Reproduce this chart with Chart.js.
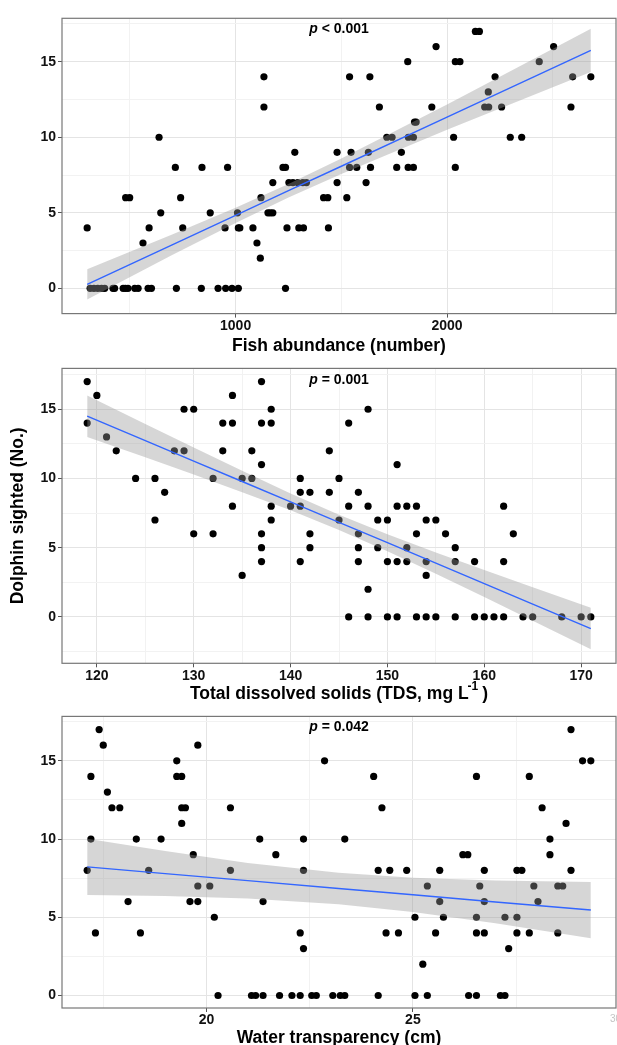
<!DOCTYPE html>
<html lang="en">
<head>
<meta charset="UTF-8">
<title>Dolphin sightings vs. water quality</title>
<style>
  body { margin: 0; background: #fff; }
  #wrap { position: relative; width: 617px; height: 1045px; overflow: hidden; }
  canvas { position: absolute; left: 0; }
</style>
</head>
<body>
<div id="wrap">
  <canvas id="fish" width="617" height="358" style="top:0px"></canvas>
  <canvas id="tds" width="617" height="348" style="top:358px"></canvas>
  <canvas id="water" width="617" height="339" style="top:706px"></canvas>
</div>

<script src="https://cdn.jsdelivr.net/npm/chart.js"></script>
<script>
// --- panel 1: fish abundance ---
const fishX = [298, 312, 330, 348, 366, 381, 420, 428, 468, 479, 491, 523, 539, 586, 602, 720, 838, 917, 953, 983, 1013, 1236,
  480, 499, 562, 591, 638, 646, 715, 740, 750, 841, 880, 950, 962, 1009, 1013, 1020, 1082, 1101, 1117, 1120, 1134, 1134,
  1153, 1164, 1176, 1176, 1224, 1236, 1243, 1280, 1252, 1271, 1294, 1318, 1335, 1299, 1321,
  1416, 1436, 1439, 1480, 1480, 1526, 1539, 1539, 1546, 1573, 1617, 1628, 1635, 1638, 1680, 1715, 1740, 1762, 1784,
  1814, 1817, 1816, 1841, 1841, 1846, 1854, 1928, 1948, 2031, 2039, 2039, 2061, 2134, 2153, 2178, 2197, 2195, 2227,
  2258, 2299, 2353, 2436, 2504, 2586, 2594, 2680];
const fishDolphins = [4, 0, 0, 0, 0, 0, 0, 0, 0, 0, 0, 0, 0, 0, 0, 0, 0, 0, 0, 0, 0, 0,
  6, 6, 3, 4, 10, 5, 8, 6, 4, 8, 5, 4, 8, 5, 4, 4, 4, 3, 2, 6, 14, 12,
  5, 5, 5, 7, 8, 8, 4, 9, 7, 7, 7, 7, 7, 4, 4,
  6, 6, 4, 9, 7, 6, 14, 8, 9, 8, 7, 9, 14, 8, 12, 10, 10, 8, 9,
  15, 10, 8, 8, 10, 11, 11, 12, 16, 10, 8, 15, 15, 17, 17, 12, 12, 13, 14,
  12, 10, 10, 15, 16, 12, 14, 14];
const fishFitX = [298, 700, 1000, 1250, 1500, 2000, 2400, 2680];
const fishFit = [0.27, 2.88, 4.83, 6.46, 8.08, 11.33, 13.93, 15.75];
const fishLow = [-0.73, 2.20, 4.33, 6.01, 7.57, 10.49, 12.75, 14.32];
const fishHigh = [1.27, 3.56, 5.33, 6.91, 8.59, 12.17, 15.11, 17.18];
const fishTicks = [1000, 2000];
const fishMinor = [500, 1500, 2500];

// --- panel 2: total dissolved solids ---
const tdsX = [119, 119, 120, 121, 122, 124, 126, 126, 127, 128, 129, 129, 130, 130, 132, 132, 133, 133,
  134, 134, 134, 135, 135, 136, 136, 137, 137, 137, 137, 137, 137, 138, 138, 138, 138, 140,
  141, 141, 141, 141, 142, 142, 142, 144, 144, 145, 145, 146, 146, 146, 147, 147, 147, 147,
  148, 148, 148, 148, 149, 149, 150, 150, 150, 151, 151, 151, 151, 152, 152, 152, 153, 153, 153,
  154, 154, 154, 154, 155, 155, 156, 157, 157, 157, 159, 159, 160, 161, 162, 162, 162, 163,
  164, 165, 168, 170, 171];
const tdsDolphins = [17, 14, 16, 13, 12, 10, 10, 7, 9, 12, 15, 12, 15, 6, 10, 6, 14, 12,
  16, 14, 8, 10, 3, 12, 10, 17, 14, 11, 6, 5, 4, 15, 14, 8, 7, 8,
  10, 9, 8, 4, 9, 6, 5, 12, 9, 10, 7, 14, 8, 0, 9, 6, 5, 4,
  15, 8, 2, 0, 7, 5, 7, 4, 0, 11, 8, 4, 0, 8, 5, 4, 8, 6, 0,
  7, 4, 3, 0, 7, 0, 6, 5, 4, 0, 4, 0, 0, 0, 8, 4, 0, 6,
  0, 0, 0, 0, 0];
const tdsFitX = [119, 125, 130, 135, 140, 145, 150, 155, 160, 165, 171];
const tdsFit = [14.50, 12.73, 11.26, 9.78, 8.31, 6.83, 5.36, 3.88, 2.41, 0.93, -0.84];
const tdsLow = [13.0, 11.53, 10.28, 9.01, 7.70, 6.28, 4.75, 3.11, 1.43, -0.28, -2.34];
const tdsHigh = [16.0, 13.94, 12.23, 10.55, 8.92, 7.38, 5.97, 4.65, 3.38, 2.14, 0.66];
const tdsTicks = [120, 130, 140, 150, 160, 170];
const tdsMinor = [125, 135, 145, 155, 165];

// --- panel 3: water transparency ---
const waterX = [17.11, 17.2, 17.2, 17.31, 17.4, 17.5, 17.6, 17.71, 17.9, 18.1, 18.3, 18.4, 18.6, 18.9,
  19.28, 19.28, 19.4, 19.4, 19.49, 19.4, 19.6, 19.68, 19.79, 19.79, 19.79, 20.08, 20.19, 20.28,
  20.58, 20.58, 21.09, 21.19, 21.29, 21.37, 21.37, 21.68, 21.77, 22.07, 22.27, 22.27, 22.35, 22.35,
  22.35, 22.55, 22.66, 22.86, 23.06, 23.24, 23.35, 23.35, 24.05, 24.16, 24.16, 24.25, 24.35, 24.44,
  24.65, 24.85, 25.05, 25.05, 25.24, 25.35, 25.35, 25.55, 25.65, 25.65, 25.74, 26.21, 26.33, 26.35,
  26.54, 26.54, 26.54, 26.54, 26.62, 26.73, 26.73, 26.73, 27.12, 27.23, 27.23, 27.32, 27.52, 27.64,
  27.52, 27.52, 27.82, 27.82, 27.93, 28.03, 28.13, 28.32, 28.32, 28.51, 28.63, 28.51, 28.71, 28.83,
  28.83, 29.11, 29.31];
const waterDolphins = [8, 10, 14, 4, 17, 16, 13, 12, 12, 6, 10, 4, 8, 10,
  15, 14, 14, 12, 12, 11, 6, 9, 16, 7, 6, 7, 5, 0,
  12, 8, 0, 0, 10, 0, 6, 9, 0, 0, 0, 4, 3, 10,
  8, 0, 0, 15, 0, 0, 0, 10, 14, 0, 8, 12, 4, 8,
  4, 8, 5, 0, 2, 0, 7, 4, 6, 8, 5, 9, 9, 0,
  0, 14, 5, 4, 7, 6, 8, 4, 0, 0, 5, 3, 8, 8,
  5, 4, 14, 4, 7, 6, 12, 10, 9, 7, 7, 4, 11, 17,
  8, 15, 15];
const waterFitX = [17.11, 19, 21, 23.2, 25, 27, 29.31];
const waterFit = [8.22, 7.79, 7.34, 6.84, 6.44, 5.98, 5.46];
const waterLow = [6.42, 6.36, 6.20, 5.84, 5.34, 4.62, 3.66];
const waterHigh = [10.02, 9.23, 8.47, 7.84, 7.53, 7.35, 7.26];
const waterTicks = [20, 25];
const waterMinor = [17.5, 22.5, 27.5];

const countTicks = [0, 5, 10, 15];
const countMinor = [-2.5, 2.5, 7.5, 12.5, 17.5];

const FONT = "'Liberation Sans', Arial, Helvetica, sans-serif";

function pairs(xs, ys) {
  return xs.map((x, i) => ({ x: x, y: ys[i] }));
}

// ggplot-like panel border
const frame = {
  id: 'frame',
  afterDatasetsDraw(chart) {
    const { ctx, chartArea: a } = chart;
    ctx.save();
    ctx.strokeStyle = '#777';
    ctx.lineWidth = 1.2;
    ctx.strokeRect(a.left, a.top, a.right - a.left, a.bottom - a.top);
    ctx.restore();
  }
};

// "p = ..." note with italic p
const pnote = {
  id: 'pnote',
  afterDraw(chart, args, opts) {
    const { ctx, chartArea: a } = chart;
    ctx.save();
    ctx.fillStyle = '#000';
    ctx.textBaseline = 'middle';
    ctx.textAlign = 'left';
    ctx.font = 'italic bold 14px ' + FONT;
    const w1 = ctx.measureText('p').width;
    ctx.font = 'bold 14px ' + FONT;
    const rest = ' ' + opts.text;
    const w2 = ctx.measureText(rest).width;
    const x0 = (a.left + a.right) / 2 - (w1 + w2) / 2;
    const y = a.top + opts.dy;
    ctx.font = 'italic bold 14px ' + FONT;
    ctx.fillText('p', x0, y);
    ctx.font = 'bold 14px ' + FONT;
    ctx.fillText(rest, x0 + w1, y);
    ctx.restore();
  }
};

// x title with a superscript (TDS panel)
const supTitle = {
  id: 'supTitle',
  afterDraw(chart) {
    const { ctx, chartArea: a } = chart;
    const main = 'Total dissolved solids (TDS, mg L';
    const sup = '-1';
    const tail = ')';
    ctx.save();
    ctx.fillStyle = '#000';
    ctx.textBaseline = 'middle';
    ctx.textAlign = 'left';
    ctx.font = 'bold 17.5px ' + FONT;
    const wm = ctx.measureText(main).width;
    const wt = ctx.measureText(tail).width;
    ctx.font = 'bold 12px ' + FONT;
    const ws = ctx.measureText(sup).width;
    const total = wm + ws + 3 + wt;
    const x0 = (a.left + a.right) / 2 - total / 2;
    const y = 336;
    ctx.font = 'bold 17.5px ' + FONT;
    ctx.fillText(main, x0, y);
    ctx.fillText(tail, x0 + wm + ws + 3, y);
    ctx.font = 'bold 12px ' + FONT;
    ctx.fillText(sup, x0 + wm - 1, y - 7);
    ctx.restore();
  }
};

// faint cut-off "30" label at the right edge of the last panel
const edgeLabel = {
  id: 'edgeLabel',
  afterDraw(chart) {
    const { ctx, chartArea: a } = chart;
    ctx.save();
    ctx.fillStyle = '#c4c4c4';
    ctx.font = '10px ' + FONT;
    ctx.textBaseline = 'middle';
    ctx.fillText('30', 610, a.bottom + 11);
    ctx.restore();
  }
};

function gridOpts(major) {
  return {
    color: c => (c.tick && major.includes(c.tick.value)) ? '#e4e4e4' : '#f2f2f2',
    tickColor: c => (c.tick && major.includes(c.tick.value)) ? '#555' : 'rgba(0,0,0,0)',
    tickLength: 4,
    lineWidth: 1
  };
}

function panel(id, p) {
  const tickFont = { family: FONT, size: 14, weight: 'bold' };
  const titleFont = { family: FONT, size: 17.5, weight: 'bold', lineHeight: 1 };
  return new Chart(document.getElementById(id), {
    type: 'line',
    data: {
      datasets: [
        {
          data: pairs(p.x, p.y),
          showLine: false,
          pointRadius: 3.6,
          pointBackgroundColor: '#000',
          pointBorderWidth: 0,
          order: 3
        },
        {
          data: pairs(p.fitX, p.low),
          borderWidth: 0,
          pointRadius: 0,
          fill: false,
          order: 2
        },
        {
          data: pairs(p.fitX, p.high),
          borderWidth: 0,
          pointRadius: 0,
          fill: '-1',
          backgroundColor: 'rgba(153,153,153,0.4)',
          order: 2
        },
        {
          data: pairs(p.fitX, p.fit),
          borderColor: '#3366FF',
          borderWidth: 1.4,
          pointRadius: 0,
          fill: false,
          order: 1
        }
      ]
    },
    options: {
      responsive: false,
      animation: false,
      events: [],
      layout: { autoPadding: false, padding: { top: p.padTop, right: 1, left: 0, bottom: 0 } },
      plugins: {
        legend: { display: false },
        tooltip: { enabled: false },
        pnote: { text: p.pText, dy: p.pDy }
      },
      scales: {
        x: {
          type: 'linear',
          min: p.xMin,
          max: p.xMax,
          afterBuildTicks: s => { s.ticks = p.xTicks.concat(p.xMinor).sort((a, b) => a - b).map(v => ({ value: v })); },
          afterFit: s => { s.height = p.xH; },
          border: { display: false },
          grid: gridOpts(p.xTicks),
          ticks: {
            autoSkip: false, maxRotation: 0, padding: 0, color: '#111', font: tickFont,
            callback: v => p.xTicks.includes(v) ? String(v) : ''
          },
          title: {
            display: !!p.xTitle,
            text: p.xTitle || '',
            color: '#000',
            font: titleFont,
            padding: { top: 0, bottom: p.titlePad }
          }
        },
        y: {
          min: p.yMin,
          max: p.yMax,
          afterBuildTicks: s => { s.ticks = countTicks.concat(countMinor).filter(v => v > p.yMin && v < p.yMax).sort((a, b) => a - b).map(v => ({ value: v })); },
          afterFit: s => { s.width = 62; },
          border: { display: false },
          grid: gridOpts(countTicks),
          ticks: {
            autoSkip: false, padding: 2, color: '#111', font: tickFont,
            callback: v => countTicks.includes(v) ? String(v) : ''
          },
          title: {
            display: !!p.yTitle,
            text: p.yTitle || '',
            color: '#000',
            font: titleFont,
            padding: { top: 9, bottom: 0 }
          }
        }
      }
    },
    plugins: [frame, pnote].concat(p.extra || [])
  });
}

panel('fish', {
  x: fishX, y: fishDolphins, fitX: fishFitX, fit: fishFit, low: fishLow, high: fishHigh,
  xTicks: fishTicks, xMinor: fishMinor, xMin: 179, xMax: 2799, yMin: -1.67, yMax: 17.87,
  padTop: 18.3, xH: 44.4, titlePad: 3.5, xTitle: 'Fish abundance (number)',
  pText: '< 0.001', pDy: 10.5
});

panel('tds', {
  x: tdsX, y: tdsDolphins, fitX: tdsFitX, fit: tdsFit, low: tdsLow, high: tdsHigh,
  xTicks: tdsTicks, xMinor: tdsMinor, xMin: 116.4, xMax: 173.6, yMin: -3.35, yMax: 17.95,
  padTop: 9.3, xH: 42.7, titlePad: 0, yTitle: 'Dolphin sighted (No.)',
  pText: '= 0.001', pDy: 12, extra: [supTitle]
});

panel('water', {
  x: waterX, y: waterDolphins, fitX: waterFitX, fit: waterFit, low: waterLow, high: waterHigh,
  xTicks: waterTicks, xMinor: waterMinor, xMin: 16.5, xMax: 29.92, yMin: -0.8, yMax: 17.84,
  padTop: 7.3, xH: 37, titlePad: -1.5, xTitle: 'Water transparency (cm)',
  pText: '= 0.042', pDy: 10.5, extra: [edgeLabel]
});
</script>
</body>
</html>
